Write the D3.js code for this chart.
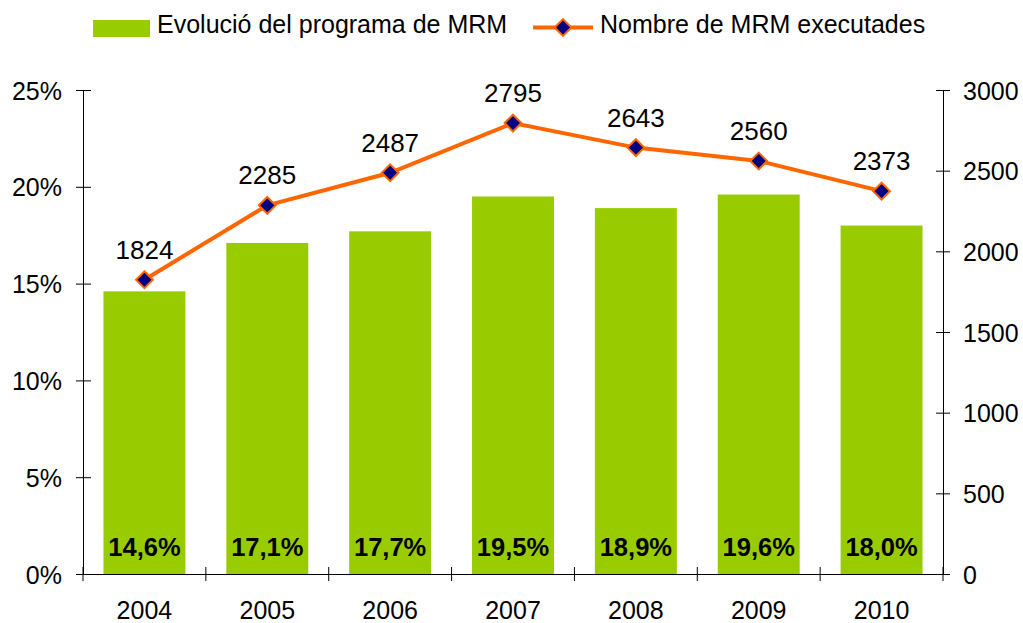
<!DOCTYPE html>
<html><head><meta charset="utf-8">
<script src="https://cdn.jsdelivr.net/npm/d3@7"></script>
<style>body{margin:0;background:#fff}svg{display:block;font-family:"Liberation Sans",Arial,sans-serif}</style>
</head><body><svg id="c" width="1023" height="623"></svg>
<script>
const years = ["2004","2005","2006","2007","2008","2009","2010"];
const pctValues = [14.6, 17.1, 17.7, 19.5, 18.9, 19.6, 18.0];
const mrmCounts = [1824, 2285, 2487, 2795, 2643, 2560, 2373];
const leftTicks = [0, 5, 10, 15, 20, 25];
const rightTicks = [0, 500, 1000, 1500, 2000, 2500, 3000];
const seriesNames = ["Evolució del programa de MRM", "Nombre de MRM executades"];

const svg = d3.select("#c");
const L = 83, R = 943, T = 90, B = 574;
const FS = 25;
const x = d3.scaleBand().domain(years).range([L, R]).paddingInner(0.333).paddingOuter(0.1665);
const xb = d3.scaleBand().domain(years).range([L, R]);
const yL = d3.scaleLinear().domain([0, 25]).range([B, T]);
const yR = d3.scaleLinear().domain([0, 3000]).range([B, T]);
const green = "#99CC00", orange = "#FF6600", navy = "#000080";

// bars
svg.selectAll("rect.bar").data(years).join("rect").attr("class","bar")
  .attr("x", d => x(d)).attr("width", x.bandwidth())
  .attr("y", (d,i) => yL(pctValues[i])).attr("height", (d,i) => B - yL(pctValues[i]))
  .attr("fill", green);

// bar labels
svg.selectAll("text.bl").data(years).join("text").attr("class","bl")
  .attr("x", d => x(d) + x.bandwidth()/2).attr("y", 556)
  .attr("text-anchor","middle").attr("font-size", 25.5).attr("font-weight","bold")
  .text((d,i) => pctValues[i].toFixed(1).replace(".", ",") + "%");

// axes
const axisColor = "#000";
const gl = svg.append("g").attr("transform", `translate(${L},0)`)
  .call(d3.axisLeft(yL).tickValues(leftTicks).tickFormat(d => d + "%").tickSize(7).tickSizeOuter(0));
gl.selectAll(".tick line").attr("x2", 8).attr("x1", -7);
const gr = svg.append("g").attr("transform", `translate(${R},0)`)
  .call(d3.axisRight(yR).tickValues(rightTicks).tickFormat(d3.format("d")).tickSize(7).tickSizeOuter(0));
gr.selectAll(".tick line").attr("x1", -7).attr("x2", 7);
const gx = svg.append("g").attr("transform", `translate(0,${B})`)
  .call(d3.axisBottom(xb).tickSize(0).tickSizeOuter(0));
gx.selectAll(".tick text").attr("dy", 0).attr("y", 45);
// category boundary ticks
svg.selectAll("line.ct").data(d3.range(years.length + 1)).join("line").attr("class","ct")
  .attr("x1", i => L + i * xb.step()).attr("x2", i => L + i * xb.step())
  .attr("y1", B - 7).attr("y2", B + 7).attr("stroke", axisColor);
[gl, gr, gx].forEach(g => {
  g.selectAll("path").attr("stroke", axisColor);
  g.selectAll("line").attr("stroke", axisColor);
  g.selectAll("text").attr("font-size", FS).attr("font-family", '"Liberation Sans",Arial,sans-serif').attr("fill","#000");
});
gl.selectAll(".tick text").attr("x", -21).attr("dy", "0.36em");
gr.selectAll(".tick text").attr("x", 20).attr("dy", "0.36em");

// line
const cx = d => xb(d) + xb.bandwidth()/2;
svg.append("path").datum(years)
  .attr("d", d3.line().x(cx).y((d,i) => yR(mrmCounts[i])))
  .attr("fill","none").attr("stroke", orange).attr("stroke-width", 4);
const diamond = d3.symbol().type(d3.symbolDiamond2).size(180);
svg.selectAll("path.mk").data(years).join("path").attr("class","mk")
  .attr("d", diamond)
  .attr("transform", (d,i) => `translate(${cx(d)},${yR(mrmCounts[i])})`)
  .attr("fill", navy).attr("stroke", orange).attr("stroke-width", 2);
svg.selectAll("text.ll").data(years).join("text").attr("class","ll")
  .attr("x", cx).attr("y", (d,i) => yR(mrmCounts[i]) - 21)
  .attr("text-anchor","middle").attr("font-size", 26)
  .text((d,i) => mrmCounts[i]);

// legend
const lg = svg.append("g");
lg.append("rect").attr("x", 93).attr("y", 20).attr("width", 57).attr("height", 17).attr("fill", green);
lg.append("text").attr("x", 157).attr("y", 33).attr("font-size", FS).text(seriesNames[0]);
lg.append("line").attr("x1", 533).attr("x2", 593).attr("y1", 27.5).attr("y2", 27.5).attr("stroke", orange).attr("stroke-width", 4);
lg.append("path").attr("d", diamond).attr("transform","translate(563,27.5)").attr("fill", navy).attr("stroke", orange).attr("stroke-width", 2);
lg.append("text").attr("x", 600).attr("y", 33).attr("font-size", FS).text(seriesNames[1]);
</script></body></html>
